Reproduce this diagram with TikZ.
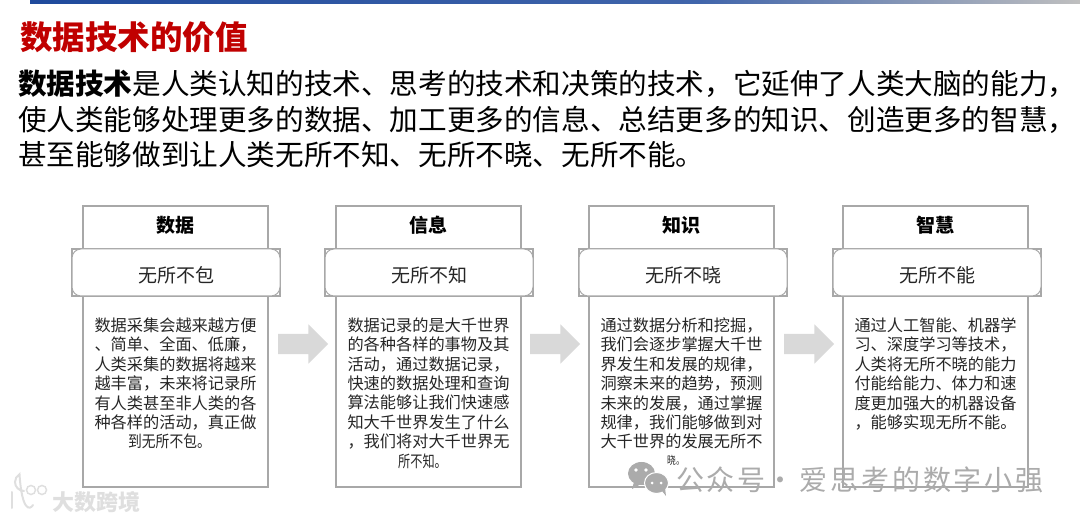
\documentclass[tikz,border=0pt]{standalone}
\usepackage{fontspec}
\setmainfont{Noto Sans CJK SC}
\usepackage{tikz}
\usetikzlibrary{arrows.meta,shapes.arrows}
\definecolor{cardgray}{HTML}{A8A8A8}
\definecolor{arrowgray}{HTML}{D9D9D9}
\definecolor{headred}{HTML}{C00000}
\definecolor{barblue}{HTML}{1F4A9C}
\definecolor{markgray}{HTML}{ABABAB}
\definecolor{logogray}{HTML}{DFDFDF}
\newcommand{\squeezed}[2]{{\addfontfeature{FakeStretch=#1}#2}}
\tikzset{
cardbox/.style={draw=cardgray,line width=1.2pt,fill=white,inner sep=0pt,minimum width=185pt,minimum height=281pt},
subback/.style={draw=cardgray,line width=1.4pt,fill=white,inner sep=0pt,minimum width=208pt,minimum height=47pt},
subpill/.style={draw=cardgray,line width=1pt,fill=white,rounded corners=9pt,inner sep=0pt,minimum width=208pt,minimum height=47pt,text height=22pt,text depth=2pt,font=\fontsize{19}{23}\selectfont,text=black!85},
cardtitle/.style={font=\fontsize{19}{23}\selectfont\bfseries},
cardtext/.style={anchor=north,align=center,inner sep=0pt,font=\fontsize{16.2}{19.4}\selectfont,text=black!85},
flowarrow/.style={single arrow,fill=arrowgray,inner xsep=0pt,inner ysep=10pt,minimum width=39pt,minimum height=50pt,single arrow head extend=9.5pt,single arrow tip angle=90},
}
\begin{document}
\begin{tikzpicture}[x=1pt,y=-1pt,>=Stealth]
\useasboundingbox (0,0) rectangle (1080,521);
\shade[left color=barblue,right color=barblue!85!white] (30,0) rectangle (700,3.5);
\shade[left color=barblue!85!white,right color=black!25] (700,0) rectangle (1080,3.5);
\node[anchor=west,inner sep=0pt,text=headred,font=\fontsize{32.5}{38}\selectfont\bfseries] (head) at(20,37){数据技术的价值};
\node[anchor=north west,inner sep=0pt,align=left,font=\fontsize{28.6}{35.5}\selectfont] (lead) at(18,70){\textbf{数据技术}是人类认知的技术、思考的技术和决策的技术，它延伸了人类大脑的能力，\\使人类能够处理更多的数据、加工更多的信息、总结更多的知识、创造更多的智慧，\\甚至能够做到让人类无所不知、无所不晓、无所不能。};
\node[cardbox] (dataCard) at(175.5,346.5){};
\node[cardbox] (infoCard) at(428.5,346.5){};
\node[cardbox] (knowCard) at(681.5,346.5){};
\node[cardbox] (wiseCard) at(935.5,346.5){};
\node[cardtitle] (dataTitle) at(175,225){数据};
\node[cardtitle] (infoTitle) at(428,225){信息};
\node[cardtitle] (knowTitle) at(681,225){知识};
\node[cardtitle] (wiseTitle) at(935,225){智慧};
\node[subback] (dataBack) at(176,272.5){};
\node[subback] (infoBack) at(429,272.5){};
\node[subback] (knowBack) at(683,272.5){};
\node[subback] (wiseBack) at(937,272.5){};
\node[subpill] (dataSub) at(176,272.5){无所不包};
\node[subpill] (infoSub) at(429,272.5){无所不知};
\node[subpill] (knowSub) at(683,272.5){无所不晓};
\node[subpill] (wiseSub) at(937,272.5){无所不能};
\node[cardtext] (dataText) at(175.5,317.5){数据采集会越来越方便\\、简单、全面、低廉，\\人类采集的数据将越来\\越丰富，未来将记录所\\有人类甚至非人类的各\\种各样的活动，真正做\\\squeezed{.85}{到无所不包。}\hspace*{12pt}};
\node[cardtext] (infoText) at(428.5,317.5){数据记录的是大千世界\\的各种各样的事物及其\\活动，通过数据记录，\\快速的数据处理和查询\\算法能够让我们快速感\\知大千世界发生了什么\\，我们将对大千世界无\\\squeezed{.75}{所不知。}\hspace*{12pt}};
\node[cardtext] (knowText) at(681.5,317.5){通过数据分析和挖掘，\\我们会逐步掌握大千世\\界发生和发展的规律，\\洞察未来的趋势，预测\\未来的发展，通过掌握\\规律，我们能够做到对\\大千世界的发展无所不\\[-3pt]{\fontsize{11}{14}\selectfont\squeezed{.8}{晓。}}\hspace*{11pt}};
\node[cardtext] (wiseText) at(935.5,317.5){通过人工智能、机器学\\习、深度学习等技术，\\人类将无所不晓的能力\\付能给能力、体力和速\\度更加强大的机器设备\\，能够实现无所不能。};
\node[flowarrow] (arrowA) at(298,344){};
\node[flowarrow] (arrowB) at(550,344){};
\node[flowarrow] (arrowC) at(804,344){};
\fill[markgray] (641.5,473.5) ellipse(13.5 and 11.5);\fill[markgray] (634,482) -- (632,489) -- (641,484);
\fill[markgray,draw=white,line width=1pt] (656.5,483) ellipse(12 and 10.5);\fill[markgray] (662,491) -- (666,496) -- (665,488);
\fill[white] (636,470) circle(1.8);\fill[white] (646,470) circle(1.8);\fill[white] (652,483) circle(1.5);\fill[white] (661,483) circle(1.5);
\node[anchor=west,inner sep=0pt,text=markgray,font=\fontsize{28}{34}\selectfont] (markText) at(676,480){\addfontfeature{LetterSpace=10}公众号\hspace{-8pt} · \hspace{-4pt}爱思考的数字小强};
\draw[logogray,line width=2pt,line cap=round] (12,492)--(12,508);
\draw[logogray,line width=2pt,line cap=round] (24,491) arc(90:240:9) .. controls (22,512) and (30,510) .. (33,505);
\draw[logogray,line width=1.5pt] (31,490) circle(4.5);\draw[logogray,line width=1.5pt] (42,490) circle(4.5);
\node[anchor=west,inner sep=0pt,text=logogray,font=\fontsize{22}{26}\selectfont\bfseries] (logoText) at(52,502){大数跨境};
\end{tikzpicture}
\end{document}
